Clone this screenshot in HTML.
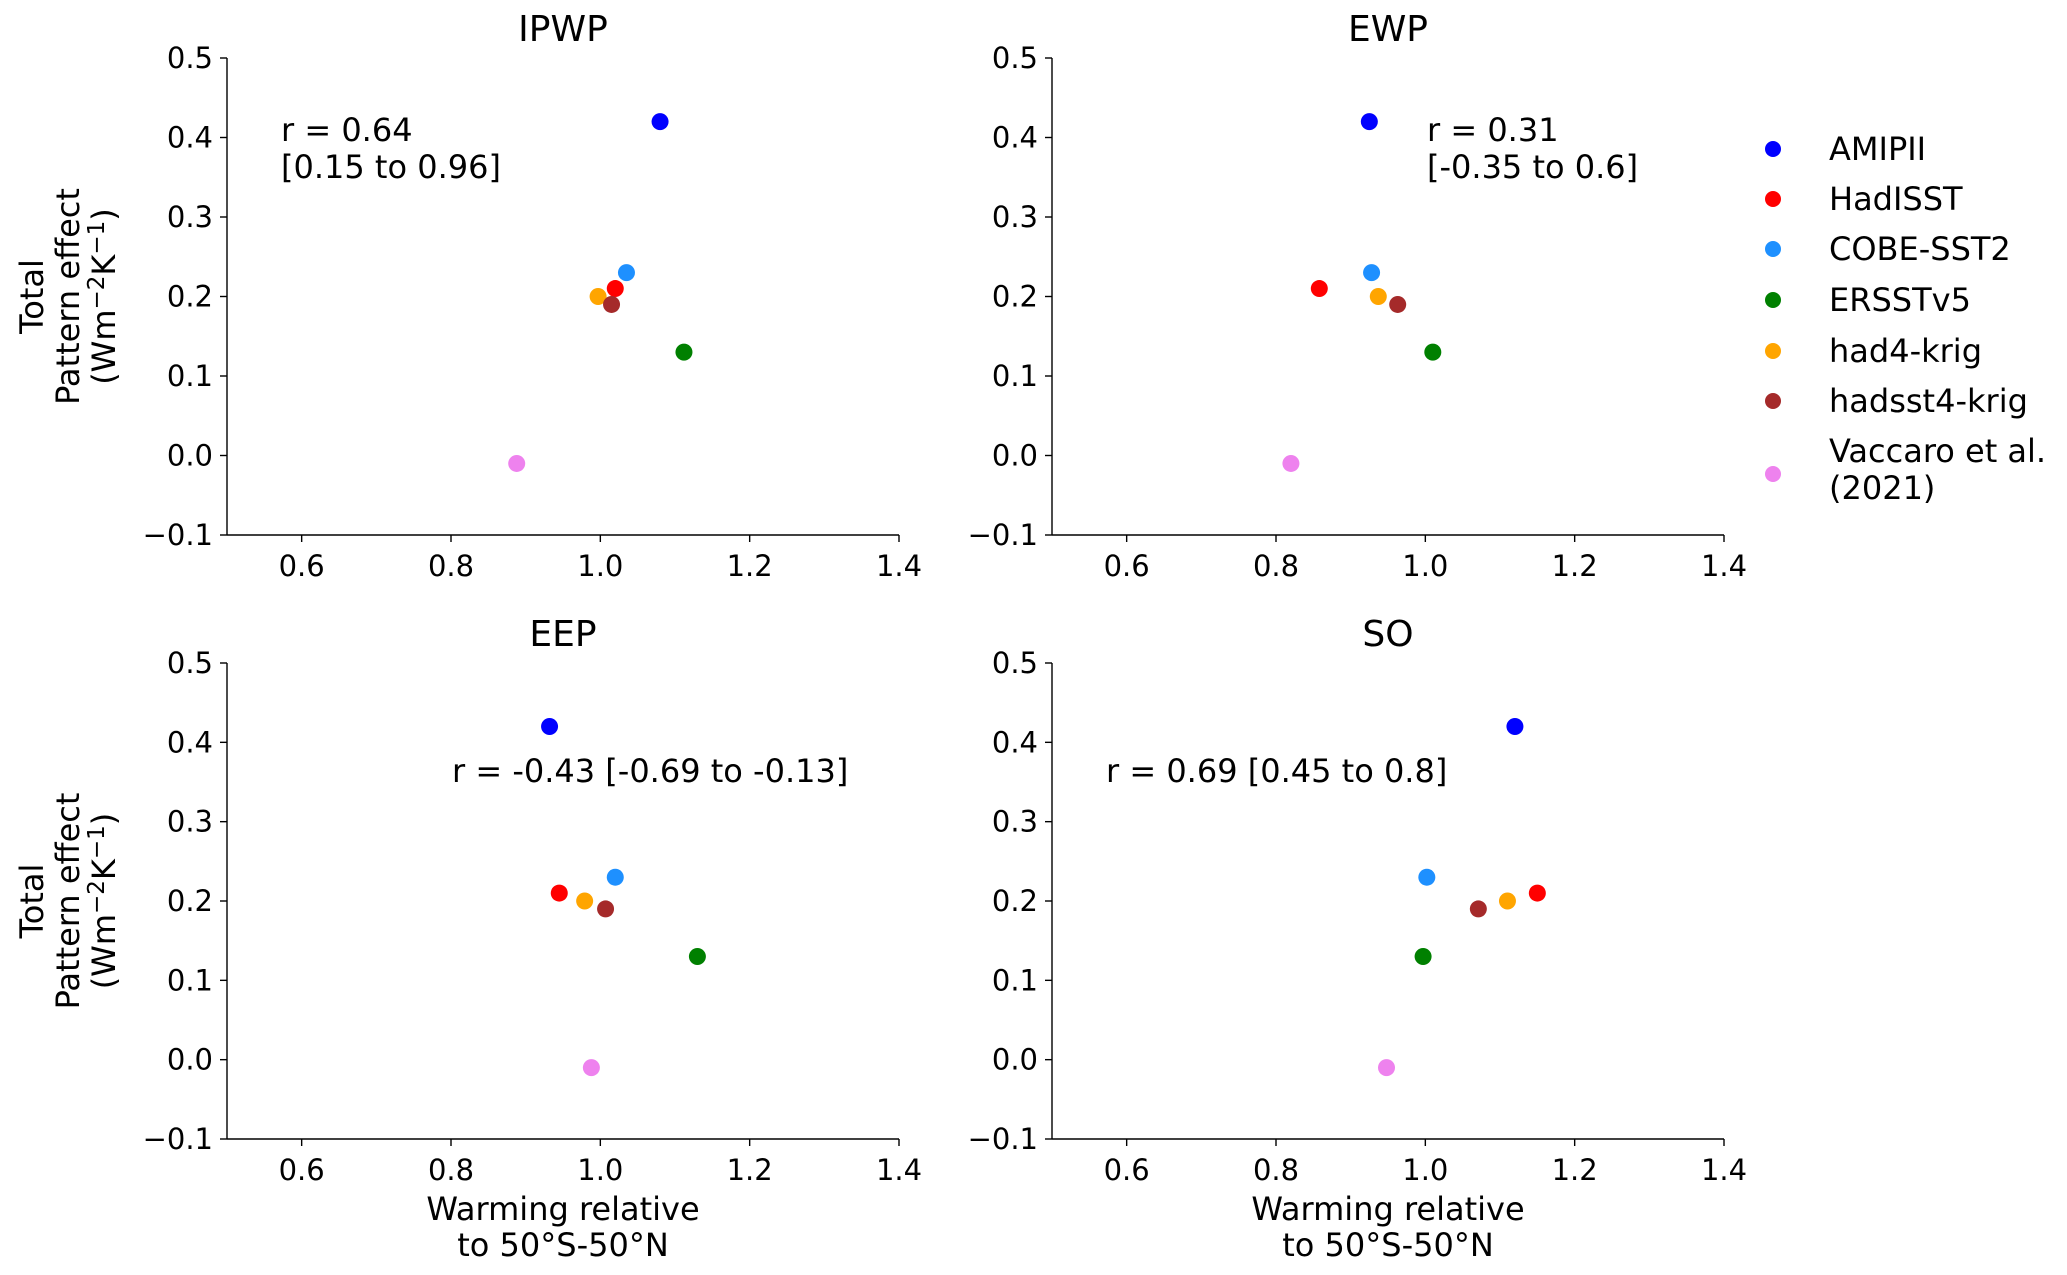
<!DOCTYPE html>
<html><head><meta charset="utf-8"><style>
body{margin:0;background:#fff}
svg{display:block;font-family:"DejaVu Sans","Liberation Sans",sans-serif}
</style></head><body>
<svg id="fig" width="2067" height="1275" viewBox="0 0 2067 1275"></svg>
<script>
const panelTitles=["IPWP","EWP","EEP","SO"];
const seriesNames=["AMIPII","HadISST","COBE-SST2","ERSSTv5","had4-krig","hadsst4-krig","Vaccaro et al. (2021)"];
const seriesColors=["#0000ff","#ff0000","#1e90ff","#008000","#ffa500","#a52a2a","#ee82ee"];
const ipwpX=[1.08,1.02,1.035,1.112,0.997,1.015,0.888];
const ewpX=[0.925,0.858,0.928,1.01,0.937,0.963,0.82];
const eepX=[0.932,0.945,1.02,1.13,0.979,1.007,0.988];
const soX=[1.12,1.15,1.002,0.997,1.11,1.071,0.948];
const patternY=[0.42,0.21,0.23,0.13,0.20,0.19,-0.01];
const xTicks=[0.6,0.8,1.0,1.2,1.4];
const yTicks=[-0.1,0.0,0.1,0.2,0.3,0.4,0.5];
const xTickLabels=["0.6","0.8","1.0","1.2","1.4"];
const yTickLabels=["\u22120.1","0.0","0.1","0.2","0.3","0.4","0.5"];
const rTexts=[["r = 0.64","[0.15 to 0.96]"],["r = 0.31","[-0.35 to 0.6]"],["r = -0.43 [-0.69 to -0.13]"],["r = 0.69 [0.45 to 0.8]"]];
const panelX=[ipwpX,ewpX,eepX,soX];

const NS="http://www.w3.org/2000/svg";
const svg=document.getElementById('fig');
function el(tag,attrs,parent){const e=document.createElementNS(NS,tag);for(const k in attrs)e.setAttribute(k,attrs[k]);(parent||svg).appendChild(e);return e;}
const layout=[{l:227,r:899,t:58,b:535},{l:1052,r:1724,t:58,b:535},{l:227,r:899,t:663,b:1139},{l:1052,r:1724,t:663,b:1139}];
const textPos=[[281,141],[1427,141],[452,782],[1106,782]];
const FS=32;
layout.forEach((L,p)=>{
  const g=el('g',{});
  
  
  const sx=v=>L.l+(v-0.5)/0.9*(L.r-L.l);
  const sy=v=>L.b-(v+0.1)/0.6*(L.b-L.t);
  const t=el('text',{x:(L.l+L.r)/2,y:L.t-17,'text-anchor':'middle','font-size':36,fill:'#000'},g);t.textContent=panelTitles[p];
  
  const ya=el('line',{x1:L.l,y1:L.t,x2:L.l,y2:L.b,stroke:'#000','stroke-width':1.4},g);
  
  const xa=el('line',{x1:L.l,y1:L.b,x2:L.r,y2:L.b,stroke:'#000','stroke-width':1.4},g);
  
  xTicks.forEach((v,i)=>{const x=sx(v);el('line',{x1:x,y1:L.b,x2:x,y2:L.b+7,stroke:'#000','stroke-width':1.4},g);
    const tt=el('text',{x:x,y:L.b+41,'text-anchor':'middle','font-size':29},g);tt.textContent=xTickLabels[i];
    });
  yTicks.forEach((v,i)=>{const y=sy(v);el('line',{x1:L.l-7,y1:y,x2:L.l,y2:y,stroke:'#000','stroke-width':1.4},g);
    const tt=el('text',{x:L.l-14,y:y+10,'text-anchor':'end','font-size':29},g);tt.textContent=yTickLabels[i];
    });
  panelX[p].forEach((xv,i)=>{const c=el('circle',{cx:sx(xv),cy:sy(patternY[i]),r:8.5,fill:seriesColors[i]},g);
    
    });
  rTexts[p].forEach((s,k)=>{const tt=el('text',{x:textPos[p][0],y:textPos[p][1]+k*37,'font-size':FS},g);tt.textContent=s;
    });
  if(p%2===0){
    const cy=(L.t+L.b)/2;
    [[32,"Total"],[68,"Pattern effect"]].forEach(a=>{const tt=el('text',{x:a[0],y:cy,'text-anchor':'middle','font-size':FS,transform:`rotate(-90 ${a[0]} ${cy})`,dy:11},g);tt.textContent=a[1];
      });
    const tt=el('text',{x:104,y:cy,'text-anchor':'middle','font-size':FS,transform:`rotate(-90 104 ${cy})`,dy:11},g);
    tt.innerHTML='(Wm<tspan dy="-11" font-size="23">\u22122</tspan><tspan dy="11">K</tspan><tspan dy="-11" font-size="23">\u22121</tspan><tspan dy="11">)</tspan>';
    
  }
  if(p>=2){
    const cx=(L.l+L.r)/2;
    [["Warming relative",1220],["to 50\u00b0S-50\u00b0N",1256]].forEach(a=>{const tt=el('text',{x:cx,y:a[1],'text-anchor':'middle','font-size':FS},g);tt.textContent=a[0];
      });
  }
});
const legend=el('g',{});


const legY=[149,199,249,300,351,401,474];
seriesNames.forEach((n,i)=>{
  const c=el('circle',{cx:1773,cy:legY[i],r:8,fill:seriesColors[i]},legend);
  
  if(i<6){const tt=el('text',{x:1829,y:legY[i]+11,'font-size':FS},legend);tt.textContent=n;
    }
  else{[["Vaccaro et al.",462],["(2021)",499]].forEach(a=>{const tt=el('text',{x:1829,y:a[1],'font-size':FS},legend);tt.textContent=a[0];
    });}
});
</script>
</body></html>
